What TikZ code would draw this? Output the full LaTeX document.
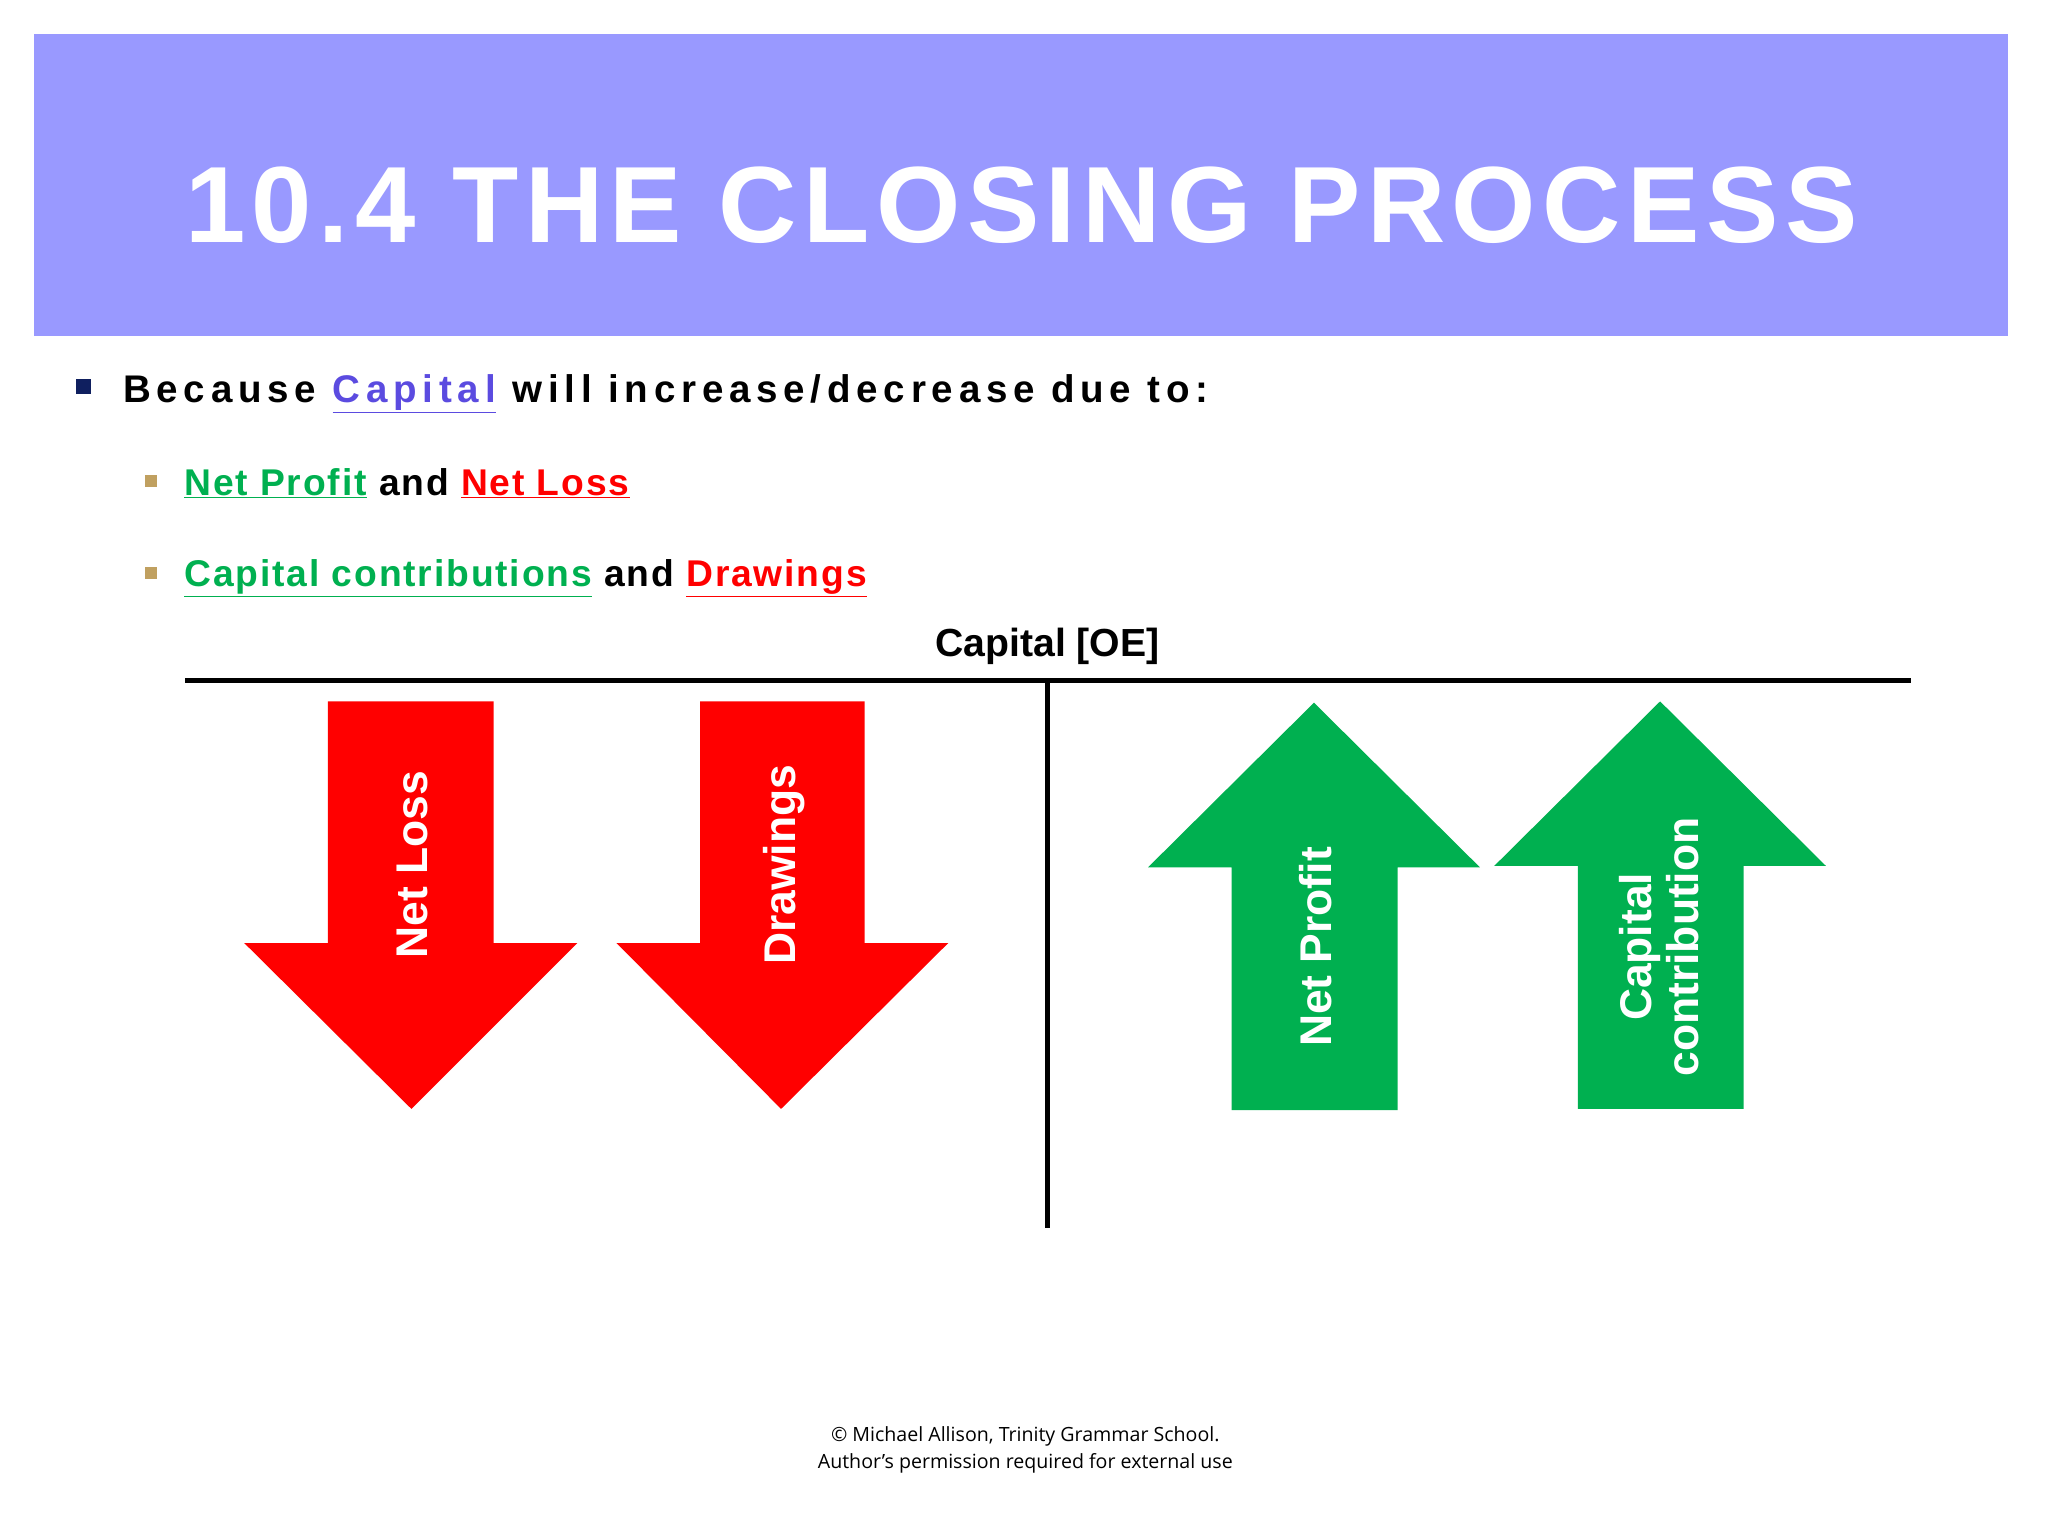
\documentclass[tikz,border=0pt]{standalone}
\usepackage{fontspec}
\setmainfont{Liberation Sans}
\newfontfamily\spaced[LetterSpace=15]{Liberation Sans}
\newfontfamily\tspaced[LetterSpace=6]{Liberation Sans}
\newfontfamily\sspaced[LetterSpace=5]{Liberation Sans}
\newfontfamily\foot{Open Sans}
\definecolor{hdr}{HTML}{9999FF}
\definecolor{capc}{HTML}{5B4BE0}
\definecolor{grn}{HTML}{00B050}
\definecolor{rd}{HTML}{FF0000}
\definecolor{navy}{HTML}{0F1F5F}
\definecolor{tan}{HTML}{C0A060}
\tikzset{
  dn/.style={fill=rd,draw=none},
  up/.style={fill=grn,draw=none},
  atext/.style={rotate=90,text=white,font=\bfseries\fontsize{34}{36}\selectfont,align=center},
}
\begin{document}
\begin{tikzpicture}[x=1pt,y=-1pt]
\useasboundingbox (0,0) rectangle (1568,1176);
\fill[white] (0,0) rectangle (1568,1176);
\fill[hdr] (26,26) rectangle (1537,257);
\node[text=white,font=\tspaced\bfseries\fontsize{83}{83}\selectfont] (title) at (782,157) {10.4 THE CLOSING PROCESS};
\fill[navy] (58,290) rectangle (70,302);
\node[anchor=base west,font=\spaced\bfseries\fontsize{29.5}{30}\selectfont,inner sep=0] (l1) at (94,308) {Because \textcolor{capc}{\underline{Capital}} will increase/decrease due to:};
\fill[tan] (111,364) rectangle (120,373);
\node[anchor=base west,font=\sspaced\bfseries\fontsize{28.5}{29}\selectfont,inner sep=0] (l2) at (141,379) {\textcolor{grn}{\underline{Net Profit}} and \textcolor{rd}{\underline{Net Loss}}};
\fill[tan] (111,434) rectangle (120,443);
\node[anchor=base west,font=\sspaced\bfseries\fontsize{28.5}{29}\selectfont,inner sep=0] (l3) at (141,449) {\textcolor{grn}{\underline{Capital contributions}} and \textcolor{rd}{\underline{Drawings}}};
\node[font=\bfseries\fontsize{30}{32}\selectfont] (cap) at (802,495) {Capital [OE]};
\coordinate (hl) at (142,521); \coordinate (hr) at (1463,521);
\coordinate (vt) at (802,521); \coordinate (vb) at (802,940);
\draw[line width=4] (hl) -- (hr);
\draw[line width=4] (vt) -- (vb);
\fill[dn] (251,537) -- (378,537) -- (378,722) -- (442,722) -- (315,849) -- (187,722) -- (251,722) -- cycle;
\fill[dn] (536,537) -- (662,537) -- (662,722) -- (726,722) -- (598,849) -- (472,722) -- (536,722) -- cycle;
\fill[up] (1006,538) -- (1133,664) -- (1070,664) -- (1070,850) -- (943,850) -- (943,664) -- (879,664) -- cycle;
\fill[up] (1271,537) -- (1398,663) -- (1335,663) -- (1335,849) -- (1208,849) -- (1208,663) -- (1144,663) -- cycle;
\node[atext] (nl) at (316,662) {Net Loss};
\node[atext] (dr) at (600,662) {Drawings};
\node[atext] (np) at (1007,725) {Net Profit};
\node[atext] (cc) at (1270,725) {Capital\\contribution};
\node[font=\foot\fontsize{15}{21}\selectfont,align=center] (ft) at (785,1110) {© Michael Allison, Trinity Grammar School.\\Author’s permission required for external use};
\end{tikzpicture}
\end{document}
